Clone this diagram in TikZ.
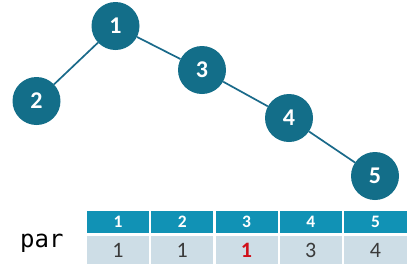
\documentclass[tikz,border=0pt]{standalone}
\usepackage{fontspec}
\usepackage{graphicx}
\setmainfont{Carlito}
\newfontfamily\monofam{DejaVu Sans Mono}
\definecolor{nodeblue}{HTML}{136E89}
\definecolor{edgeblue}{HTML}{1A6A8A}
\definecolor{headblue}{HTML}{1192B5}
\definecolor{cellgrey}{HTML}{CDDDE6}
\definecolor{valtext}{HTML}{3A3A3A}
\definecolor{valred}{HTML}{D0101A}
\newcommand{\hdfont}{\fontsize{14}{14}\selectfont\bfseries}
\newcommand{\hdtext}[1]{\scalebox{1.25}{\hdfont #1}}
\newcommand{\vlfont}{\fontsize{22}{22}\selectfont}
\newcommand{\ndfont}{\fontsize{24}{24}\selectfont\bfseries}
\tikzset{
  treenode/.style={circle, fill=nodeblue, minimum size=48pt, inner sep=0pt, text=white, font=\ndfont},
  edge/.style={draw=edgeblue, line width=1.7pt},
  headcell/.style={fill=headblue, minimum width=62pt, minimum height=22pt, inner sep=0pt, text=white, font=\hdfont},
  valcell/.style={fill=cellgrey, minimum width=62pt, minimum height=28pt, inner sep=0pt, text=valtext, font=\vlfont},
}
\begin{document}
\begin{tikzpicture}[x=1pt,y=-1pt]
\useasboundingbox[fill=white] (0,0) rectangle (410,277);
\node[treenode] (n1) at (115.5,26) {1};
\node[treenode] (n2) at (36.5,101) {2};
\node[treenode] (n3) at (202,70) {3};
\node[treenode] (n4) at (289,118) {4};
\node[treenode] (n5) at (375,176) {5};
\draw[edge] (n1) -- (n2);
\draw[edge] (n1) -- (n3);
\draw[edge] (n3) -- (n4);
\draw[edge] (n4) -- (n5);
\node[headcell] (h1) at (118,222) {\hdtext{1}};
\node[headcell] (h2) at (182.2,222) {\hdtext{2}};
\node[headcell] (h3) at (246.5,222) {\hdtext{3}};
\node[headcell] (h4) at (310.8,222) {\hdtext{4}};
\node[headcell, minimum width=63pt] (h5) at (375.5,222) {\hdtext{5}};
\node[valcell] (v1) at (118,250) {1};
\node[valcell] (v2) at (182.2,250) {1};
\node[valcell, text=valred] (v3) at (246.5,250) {\bfseries 1};
\node[valcell] (v4) at (310.8,250) {3};
\node[valcell, minimum width=63pt] (v5) at (375.5,250) {4};
\node[anchor=base west, inner sep=0pt, font=\monofam\fontsize{24}{24}\selectfont] (par) at (20,247) {par};
\end{tikzpicture}
\end{document}
